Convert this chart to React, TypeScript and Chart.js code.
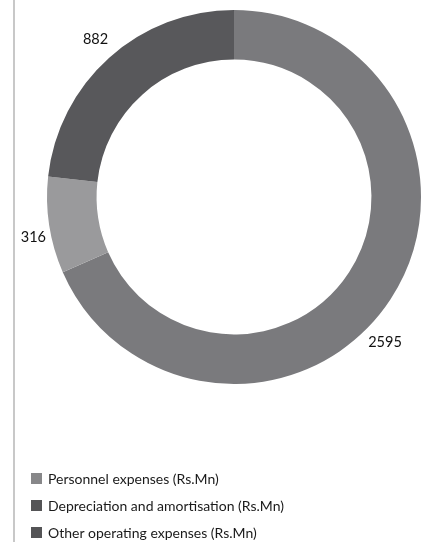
import React, { useEffect, useRef } from "react";
import { Chart, registerables } from "chart.js";

Chart.register(...registerables);

const categories = [
  "Personnel expenses (Rs.Mn)",
  "Depreciation and amortisation (Rs.Mn)",
  "Other operating expenses (Rs.Mn)",
];
const values = [2595, 316, 882];
const sliceColors = ["#7a7a7d", "#9a9a9c", "#58585b"];
const legendColors = ["#878789", "#545456", "#545456"];

const FONT = "Lato, 'Open Sans', sans-serif";

const decorPlugin = {
  id: "decor",
  beforeDraw(chart: any) {
    const ctx = chart.ctx;
    ctx.save();
    ctx.fillStyle = "#c8c8c8";
    ctx.fillRect(13, 0, 2, chart.height);
    ctx.restore();
  },
  afterDraw(chart: any) {
    const ctx = chart.ctx;
    const meta = chart.getDatasetMeta(0);
    const nudges = [
      [-24, 31],
      [6, 9],
      [1, -2],
    ];
    ctx.save();
    ctx.font = `14.5px ${FONT}`;
    ctx.fillStyle = "#111";
    ctx.textAlign = "center";
    ctx.textBaseline = "middle";
    meta.data.forEach((arc: any, i: number) => {
      const { x, y, startAngle, endAngle, outerRadius } = arc.getProps(
        ["x", "y", "startAngle", "endAngle", "outerRadius"],
        true
      );
      const mid = (startAngle + endAngle) / 2;
      const r = outerRadius + 22;
      const lx = x + Math.cos(mid) * r + nudges[i][0];
      const ly = y + Math.sin(mid) * r + nudges[i][1];
      ctx.fillText(String(values[i]), lx, ly);
    });
    // legend
    ctx.font = `14px ${FONT}`;
    ctx.textAlign = "left";
    categories.forEach((c, i) => {
      const by = 473 + i * 27;
      ctx.fillStyle = legendColors[i];
      ctx.fillRect(31, by, 11, 11);
      ctx.fillStyle = "#1a1a1a";
      ctx.fillText(c, 48, by + 6);
    });
    ctx.restore();
  },
};

export default function App() {
  const ref = useRef<HTMLCanvasElement>(null);
  useEffect(() => {
    if (!ref.current) return;
    const chart = new Chart(ref.current, {
      type: "doughnut",
      data: {
        labels: categories,
        datasets: [
          {
            data: values,
            backgroundColor: sliceColors,
            borderWidth: 0,
          },
        ],
      },
      options: {
        responsive: false,
        animation: false,
        cutout: "73.5%",
        layout: { padding: { left: 47, right: 5, top: 10, bottom: 158 } },
        plugins: {
          legend: { display: false },
          tooltip: { enabled: false },
        },
      },
      plugins: [decorPlugin],
    });
    return () => chart.destroy();
  }, []);
  return (
    <div style={{ position: "fixed", left: 0, top: 0, width: 426, height: 542, background: "#fff" }}>
      <canvas ref={ref} width={426} height={542} style={{ width: 426, height: 542, display: "block" }} />
    </div>
  );
}
